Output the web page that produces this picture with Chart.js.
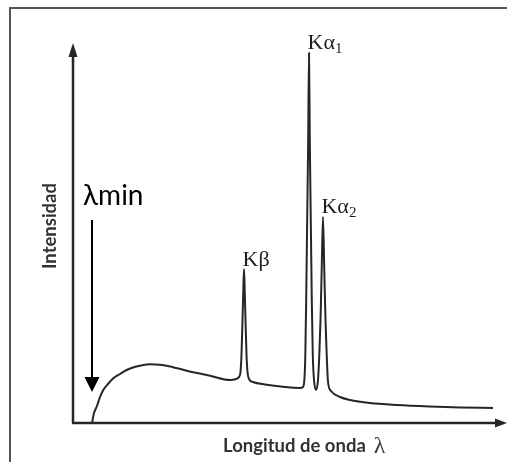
<!DOCTYPE html>
<html lang="es">
<head>
<meta charset="UTF-8">
<title>Espectro de rayos X</title>
<script src="https://cdn.jsdelivr.net/npm/chart.js"></script>
<style>
  html, body { margin: 0; padding: 0; background: #fff; }
  #wrap { width: 507px; height: 462px; position: relative; }
</style>
</head>
<body>
<div id="wrap">
  <canvas id="spectrum" width="507" height="462"></canvas>
</div>
<script>
// continuum + characteristic lines, lambda in arbitrary units (0..100)
const wavelength = [
  4.38, 4.84, 5.46, 6.22, 6.98, 8.06, 9.29, 10.83, 12.37, 13.82, 15.44, 17.74,
  20.05, 21.59, 26.2, 31.57, 36.18, 37.56,
  38.25, 38.59, 38.82, 39.06, 39.24, 39.4, 39.56, 39.75, 39.98, 40.21, 40.55,
  41.47, 44.24, 48.85, 52.3,
  53.0, 53.34, 53.53, 53.73, 53.96, 54.19, 54.38, 54.56, 54.79, 55.02, 55.25, 55.53, 55.99,
  56.45, 56.75, 57.03, 57.3, 57.6, 57.9, 58.18, 58.46, 58.76, 59.45,
  61.52, 63.82, 68.43, 74.65, 82.26, 89.17, 96.77
];
const intensity = [
  0, 2.63, 4.29, 6.84, 8.68, 10.26, 11.76, 12.89, 13.95, 14.6, 15.08, 15.45,
  15.32, 15.08, 13.76, 12.45, 11.32, 11.58,
  12.1, 13.42, 17.89, 27.1, 35.0, 40.53, 35.0, 27.1, 17.89, 13.42, 11.58,
  10.79, 10.13, 9.47, 9.21,
  9.47, 11.84, 17.89, 32.37, 53.42, 74.47, 97.37, 74.47, 53.42, 32.37, 17.89, 11.32, 8.68,
  11.32, 17.89, 27.1, 40.26, 54.21, 40.26, 27.1, 17.89, 10.79, 8.42,
  6.84, 6.05, 5.26, 4.74, 4.34, 4.08, 3.95
];

const peakNames = ['β', 'α', 'α'];
const peakSubs = ['', '1', '2'];
const peakWavelength = [39.4, 54.38, 57.6];
const peakIntensity = [40.53, 97.37, 54.21];
const lambdaMin = 4.38;

const ink = '#262626';

const axesPlugin = {
  id: 'arrowAxes',
  afterDatasetsDraw(chart) {
    const { ctx, chartArea: a, scales } = chart;
    ctx.save();

    // frame
    ctx.strokeStyle = '#555';
    ctx.lineWidth = 2;
    ctx.beginPath();
    ctx.moveTo(10, 462);
    ctx.lineTo(10, 8);
    ctx.lineTo(507, 8);
    ctx.stroke();

    // axes with arrow heads
    ctx.strokeStyle = ink;
    ctx.fillStyle = ink;
    ctx.lineWidth = 2.5;
    ctx.beginPath();
    ctx.moveTo(a.left, a.bottom);
    ctx.lineTo(a.left, a.top + 8);
    ctx.moveTo(a.left - 1, a.bottom);
    ctx.lineTo(a.right - 8, a.bottom);
    ctx.stroke();

    ctx.beginPath();
    ctx.moveTo(a.left, a.top);
    ctx.lineTo(a.left - 4.5, a.top + 14);
    ctx.lineTo(a.left + 4.5, a.top + 14);
    ctx.closePath();
    ctx.fill();

    ctx.beginPath();
    ctx.moveTo(a.right, a.bottom);
    ctx.lineTo(a.right - 12, a.bottom - 4.5);
    ctx.lineTo(a.right - 12, a.bottom + 4.5);
    ctx.closePath();
    ctx.fill();

    // lambda min arrow
    const xm = scales.x.getPixelForValue(lambdaMin);
    ctx.fillStyle = '#000';
    ctx.strokeStyle = '#000';
    ctx.lineWidth = 2;
    ctx.beginPath();
    ctx.moveTo(xm, 220);
    ctx.lineTo(xm, 380);
    ctx.stroke();
    ctx.beginPath();
    ctx.moveTo(xm, a.bottom - 31);
    ctx.lineTo(xm - 7.5, a.bottom - 46);
    ctx.lineTo(xm + 7.5, a.bottom - 46);
    ctx.closePath();
    ctx.fill();

    ctx.textBaseline = 'alphabetic';
    ctx.font = '28px Lato';
    ctx.fillText('λmin', xm - 9, 205);

    // peak labels
    ctx.fillStyle = '#1e1e1e';
    peakNames.forEach((name, i) => {
      const px = scales.x.getPixelForValue(peakWavelength[i]);
      const py = scales.y.getPixelForValue(peakIntensity[i]);
      let x = px - 1.5;
      const y = py - (peakSubs[i] ? 4 : 3);
      ctx.font = '22px "Liberation Serif"';
      ctx.fillText('K', x, y);
      x += ctx.measureText('K').width;
      ctx.fillText(name, x, y);
      x += ctx.measureText(name).width;
      if (peakSubs[i]) {
        ctx.font = '15px "Liberation Serif"';
        ctx.fillText(peakSubs[i], x, y + 4);
      }
    });

    // axis titles
    ctx.fillStyle = '#333';
    ctx.font = 'bold 18.5px Lato';
    ctx.fillText('Longitud de onda', 223, 452);
    const w = ctx.measureText('Longitud de onda').width;
    ctx.font = '24px "Liberation Serif"';
    ctx.fillText('λ', 223 + w + 8, 453);

    ctx.save();
    ctx.translate(56, 226);
    ctx.rotate(-Math.PI / 2);
    ctx.font = 'bold 18.5px Lato';
    ctx.textAlign = 'center';
    ctx.fillText('Intensidad', 0, 0);
    ctx.restore();

    ctx.restore();
  }
};

new Chart(document.getElementById('spectrum'), {
  type: 'line',
  data: {
    datasets: [{
      data: wavelength.map((x, i) => ({ x, y: intensity[i] })),
      borderColor: ink,
      borderWidth: 2,
      pointRadius: 0,
      cubicInterpolationMode: 'monotone',
      fill: false
    }]
  },
  options: {
    responsive: false,
    animation: false,
    layout: { padding: { left: 73, top: 43, right: 0, bottom: 39 } },
    scales: {
      x: { type: 'linear', min: 0, max: 100, display: false },
      y: { min: 0, max: 100, display: false }
    },
    plugins: {
      legend: { display: false },
      tooltip: { enabled: false }
    }
  },
  plugins: [axesPlugin]
});
</script>
</body>
</html>
